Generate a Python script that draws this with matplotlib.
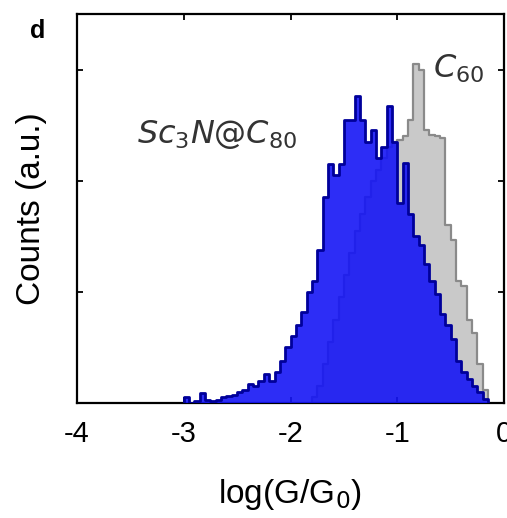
import numpy as np
import matplotlib
matplotlib.use("Agg")
import matplotlib.pyplot as plt

plt.rcParams['font.family'] = ['Liberation Sans', 'DejaVu Sans']
plt.rcParams['mathtext.fontset'] = 'custom'
plt.rcParams['mathtext.rm'] = 'DejaVu Sans'
plt.rcParams['mathtext.it'] = 'DejaVu Sans:italic'
plt.rcParams['axes.unicode_minus'] = False

# log(G/G0) histograms, bin width 0.05, first left bin edge
bin_w = 0.05
sc3n_start = -3.00
sc3n_counts = [0.05, 0.00, 0.02, 0.09, 0.03, 0.02, 0.03, 0.05, 0.06, 0.07,
               0.10, 0.12, 0.17, 0.15, 0.20, 0.26, 0.20, 0.28, 0.38, 0.50,
               0.60, 0.70, 0.82, 1.00, 1.10, 1.38, 1.85, 2.15, 2.05, 2.15,
               2.55, 2.55, 2.76, 2.55, 2.35, 2.46, 2.20, 2.30, 2.67, 2.35,
               1.80, 2.16, 1.70, 1.50, 1.42, 1.25, 1.10, 0.98, 0.80, 0.70,
               0.58, 0.38, 0.28, 0.22, 0.15, 0.10, 0.04]

c60_start = -1.80
c60_counts = [0.05, 0.15, 0.35, 0.55, 0.75, 0.95, 1.15, 1.35, 1.55, 1.70,
              1.85, 2.00, 2.10, 2.20, 2.30, 2.35, 2.37, 2.40, 2.55, 3.05,
              3.00, 2.46, 2.41, 2.40, 2.38, 1.60, 1.47, 1.10, 1.05, 0.75,
              0.63, 0.35, 0.12]

x_ticks = [-4, -3, -2, -1, 0]
y_ticks = [0, 1, 2, 3]


def step_xy(start, counts):
    e = start + bin_w * np.arange(len(counts) + 1)
    xs = np.repeat(e, 2)
    ys = np.concatenate([[0], np.repeat(counts, 2), [0]])
    return xs, ys


fig = plt.figure(figsize=(5.07, 5.18), dpi=100)
ax = fig.add_axes([0.152, 0.222, 0.842, 0.751])

# C60 (grey, behind)
xs, ys = step_xy(c60_start, c60_counts)
ax.fill_between(xs, ys, color='#c9c9c9', lw=0, zorder=1)
ax.plot(xs, ys, color='#8a8a8a', lw=1.6, zorder=2)

# Sc3N@C80 (blue, front)
xs, ys = step_xy(sc3n_start, sc3n_counts)
ax.fill_between(xs, ys, color='#1616f5', alpha=0.9, lw=0, zorder=3)
ax.plot(xs, ys, color='#00009a', lw=2.0, zorder=4)

ax.set_xlim(-4, 0)
ax.set_ylim(0, 3.5)
ax.set_xticks(x_ticks)
ax.set_xticklabels([str(t) for t in x_ticks])
ax.set_yticks(y_ticks)
ax.set_yticklabels([])
ax.tick_params(direction='in', top=True, right=True, length=4, width=1.3,
               labelsize=21, pad=12)
for s in ax.spines.values():
    s.set_linewidth(1.6)

ax.set_xlabel('log(G/G$_{\\mathit{0}}$)', fontsize=24)
ax.xaxis.set_label_coords(0.5, -0.19)
ax.set_ylabel('Counts (a.u.)', fontsize=24)
ax.yaxis.set_label_coords(-0.07, 0.5)

ax.text(-3.44, 2.34, r'$\mathit{Sc_3N@C_{80}}$', fontsize=23, color='#333333')
ax.text(-0.665, 2.93, r'$\mathit{C_{60}}$', fontsize=23, color='#333333')
fig.text(0.059, 0.963, 'd', fontsize=18, fontweight='bold', va='top')

fig.savefig('out.png', dpi=100)
